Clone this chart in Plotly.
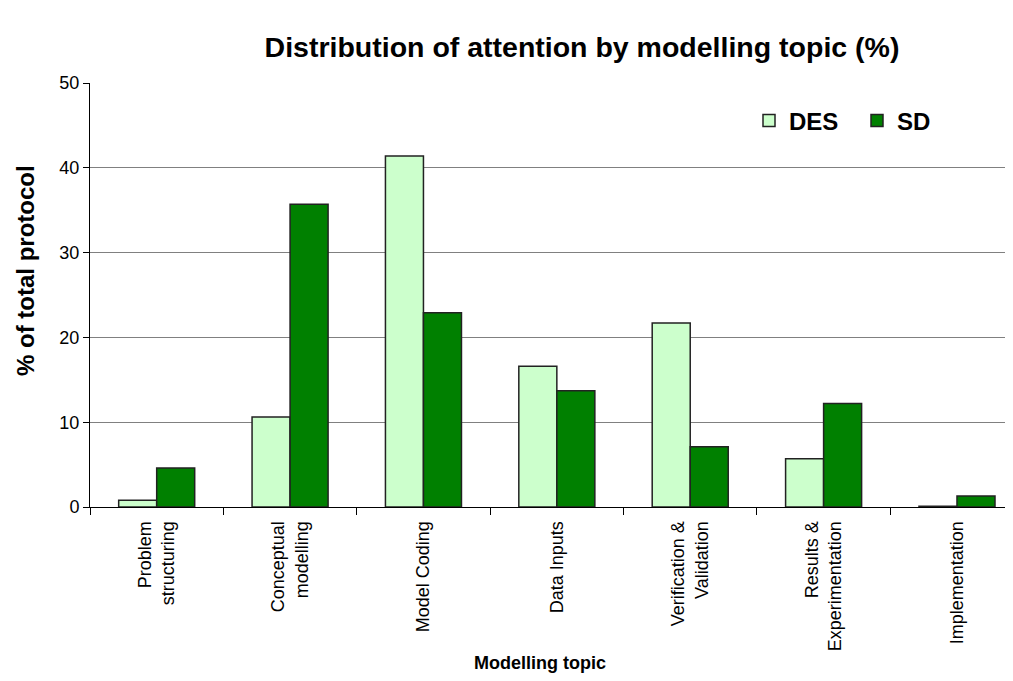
import plotly.graph_objects as go

categories = ["Problem<br>structuring", "Conceptual<br>modelling", "Model Coding", "Data Inputs",
              "Verification &<br>Validation", "Results &<br>Experimentation", "Implementation"]
des_values = [0.8, 10.6, 41.4, 16.6, 21.7, 5.7, 0.1]
sd_values = [4.6, 35.7, 22.9, 13.7, 7.1, 12.2, 1.3]
y_ticks = [0, 10, 20, 30, 40, 50]

FONT = "Arial, Liberation Sans, sans-serif"

# page body has an 8px margin; figure sized to fit inside the window
W, H = 997, 665
L, T, PW, PH = 82, 75, 915, 424


def px(xpage):
    return (xpage - 8 - L) / PW


def py(ypage):
    return (T + PH - (ypage - 8)) / PH


fig = go.Figure()
fig.add_trace(go.Bar(name="DES", x=categories, y=des_values,
                     marker=dict(color="#CCFFCC", line=dict(color="#222222", width=1.5))))
fig.add_trace(go.Bar(name="SD", x=categories, y=sd_values,
                     marker=dict(color="#008000", line=dict(color="#222222", width=1.5))))

fig.update_layout(
    width=W, height=H,
    margin=dict(l=L, r=W - L - PW, t=T, b=H - T - PH, pad=0),
    paper_bgcolor="white", plot_bgcolor="white",
    barmode="group", bargap=0.43, bargroupgap=0,
    font=dict(family=FONT, color="black"),
    title=dict(text="<b>Distribution of attention by modelling topic (%)</b>",
               font=dict(size=28.5, family=FONT, color="black"),
               xref="paper", x=px(582), xanchor="center",
               yref="container", y=1 - (47 - 8) / H, yanchor="middle"),
    legend=dict(orientation="h", x=px(762) - 13 / PW, xanchor="left", y=py(121), yanchor="middle",
                font=dict(size=24, family=FONT, color="black", weight="bold"),
                entrywidth=63, entrywidthmode="pixels",
                bgcolor="rgba(0,0,0,0)", itemclick=False),
    showlegend=True,
)

fig.update_xaxes(
    type="category", range=[-0.5, 6.36],
    showline=True, linecolor="black", linewidth=1,
    ticks="outside", tickson="boundaries", ticklen=7, tickcolor="black",
    tickangle=-90, tickfont=dict(size=18, family=FONT, color="black"),
    ticklabelstandoff=6,
    showgrid=False,
)
fig.update_yaxes(
    range=[0, 50], tickvals=y_ticks,
    showline=True, linecolor="black", linewidth=1,
    ticks="outside", ticklen=6, tickcolor="black",
    tickfont=dict(size=18, family=FONT, color="black"),
    showgrid=True, gridcolor="#808080", gridwidth=1, zeroline=False,
)

fig.add_annotation(text="<b>% of total protocol</b>", xref="paper", yref="paper",
                   x=px(25), y=py(271), xanchor="center", yanchor="middle",
                   textangle=-90, showarrow=False, font=dict(size=24, family=FONT, color="black"))
fig.add_annotation(text="<b>Modelling topic</b>", xref="paper", yref="paper",
                   x=px(540), y=py(663), xanchor="center", yanchor="middle",
                   showarrow=False, font=dict(size=18, family=FONT, color="black"))

fig.write_html("out.html")
